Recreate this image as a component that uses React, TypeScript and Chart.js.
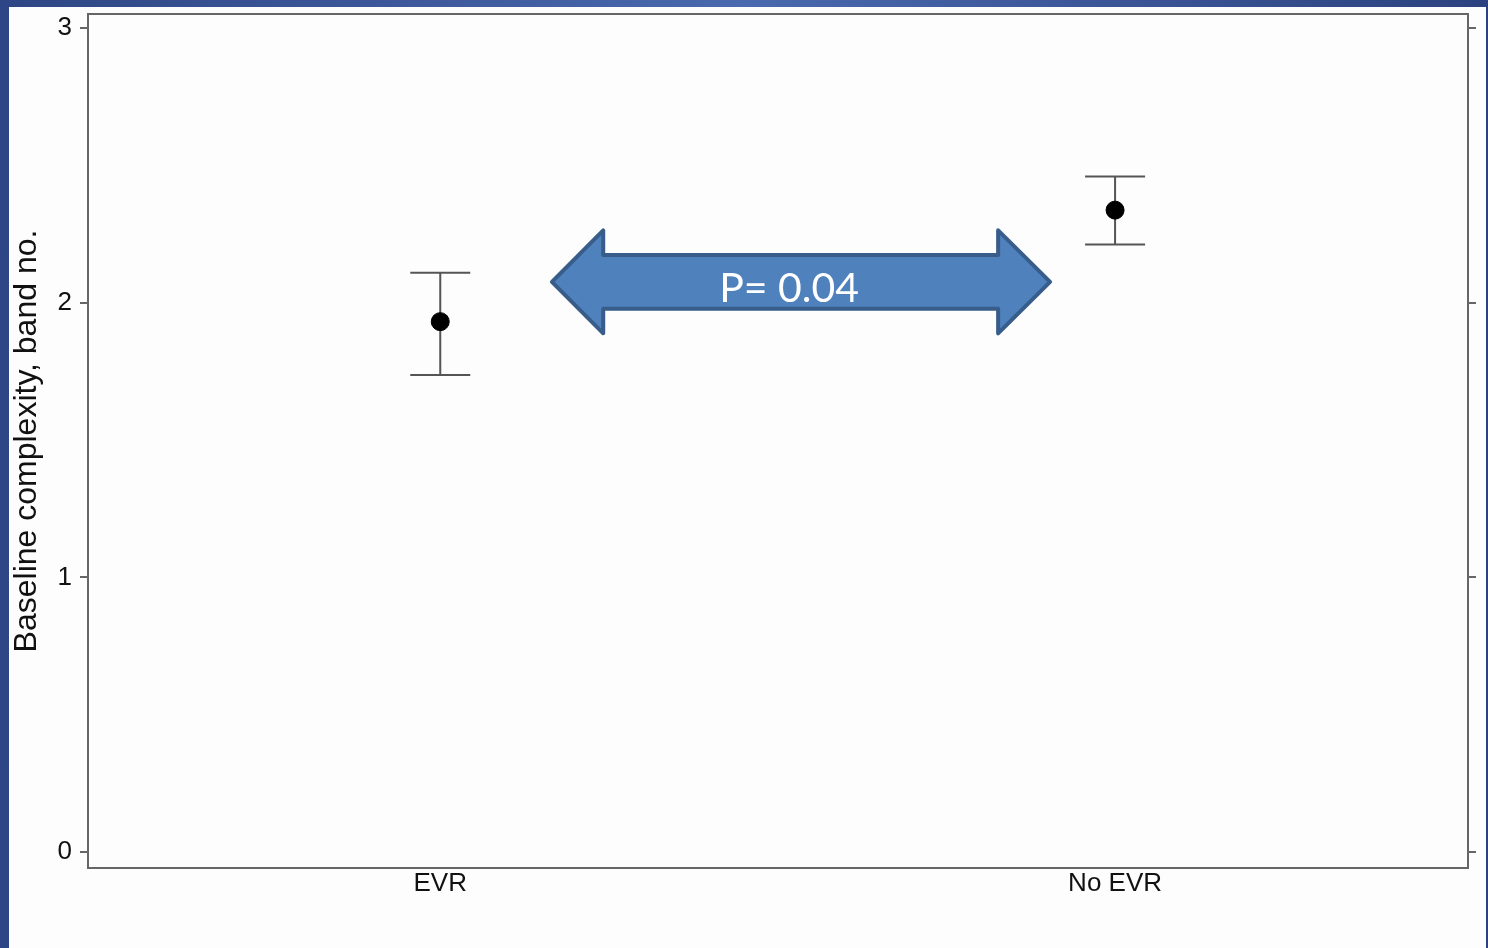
import React, { useEffect, useRef } from "react";
import { Chart, registerables } from "chart.js";

Chart.register(...registerables);

const categories = ["EVR", "No EVR"];
const positions = [1, 2];
const means = [1.931, 2.337];
const upper = [2.109, 2.459];
const lower = [1.737, 2.212];
const yTicks = [0, 1, 2, 3];
const yTitle = "Baseline complexity, band no.";
const pLabel = "P= 0.04";
// annotation arrow in data units: [leftTip, leftHeadBase, rightHeadBase, rightTip]
const arrowX = [1.1655, 1.2415, 1.8267, 1.9037];
const arrowY = [2.076]; // centre line
const arrowHalfHead = [0.1875];
const arrowHalfShaft = [0.098];
const pLabelPos = [1.517, 2.0035];

const boxPlugin = {
  id: "boxPlugin",
  beforeDatasetsDraw(chart: any) {
    const { ctx, chartArea } = chart;
    ctx.save();
    ctx.strokeStyle = "#666666";
    ctx.lineWidth = 2;
    ctx.strokeRect(chartArea.left, chartArea.top, chartArea.right - chartArea.left, chartArea.bottom - chartArea.top);
    const xs = chart.scales.x;
    const ys = chart.scales.y;
    ctx.strokeStyle = "#555555";
    ctx.lineWidth = 2;
    for (let i = 0; i < positions.length; i++) {
      const px = xs.getPixelForValue(positions[i]);
      const pu = ys.getPixelForValue(upper[i]);
      const pl = ys.getPixelForValue(lower[i]);
      ctx.beginPath();
      ctx.moveTo(px, pu);
      ctx.lineTo(px, pl);
      ctx.moveTo(px - 30, pu);
      ctx.lineTo(px + 30, pu);
      ctx.moveTo(px - 30, pl);
      ctx.lineTo(px + 30, pl);
      ctx.stroke();
    }
    ctx.restore();
  },
  afterDatasetsDraw(chart: any) {
    const { ctx } = chart;
    const xs = chart.scales.x;
    const ys = chart.scales.y;
    const x0 = xs.getPixelForValue(arrowX[0]);
    const x1 = xs.getPixelForValue(arrowX[1]);
    const x2 = xs.getPixelForValue(arrowX[2]);
    const x3 = xs.getPixelForValue(arrowX[3]);
    const yc = ys.getPixelForValue(arrowY[0]);
    const hh = ys.getPixelForValue(arrowY[0] - arrowHalfHead[0]) - yc;
    const hs = ys.getPixelForValue(arrowY[0] - arrowHalfShaft[0]) - yc;
    ctx.save();
    ctx.beginPath();
    ctx.moveTo(x0, yc);
    ctx.lineTo(x1, yc - hh);
    ctx.lineTo(x1, yc - hs);
    ctx.lineTo(x2, yc - hs);
    ctx.lineTo(x2, yc - hh);
    ctx.lineTo(x3, yc);
    ctx.lineTo(x2, yc + hh);
    ctx.lineTo(x2, yc + hs);
    ctx.lineTo(x1, yc + hs);
    ctx.lineTo(x1, yc + hh);
    ctx.closePath();
    ctx.fillStyle = "#4F81BD";
    ctx.fill();
    ctx.lineJoin = "round";
    ctx.lineWidth = 4;
    ctx.strokeStyle = "#385D8A";
    ctx.stroke();
    ctx.fillStyle = "#ffffff";
    ctx.font = "41px Lato, 'Open Sans', sans-serif";
    ctx.textAlign = "center";
    ctx.textBaseline = "alphabetic";
    ctx.fillText(pLabel, xs.getPixelForValue(pLabelPos[0]), ys.getPixelForValue(pLabelPos[1]));
    ctx.restore();
  },
};

const fitY = (w: number) => (s: any) => {
  s.width = w;
  s.paddingTop = 0;
  s.paddingBottom = 0;
};

export default function App() {
  const ref = useRef<HTMLCanvasElement | null>(null);
  useEffect(() => {
    if (!ref.current) return;
    const chart = new Chart(ref.current, {
      type: "scatter",
      data: {
        datasets: [
          {
            data: positions.map((p, i) => ({ x: p, y: means[i] })),
            backgroundColor: "#000000",
            borderColor: "#000000",
            pointRadius: 9,
            pointHoverRadius: 9,
          },
        ],
      },
      options: {
        animation: false,
        responsive: false,
        layout: { padding: { left: 0, top: 14, right: 0, bottom: 0 } },
        plugins: { legend: { display: false }, tooltip: { enabled: false } },
        scales: {
          x: {
            type: "linear",
            min: 0.478,
            max: 2.523,
            afterBuildTicks: (s: any) => {
              s.ticks = positions.map((v) => ({ value: v }));
            },
            afterFit: (s: any) => {
              s.height = 80;
              s.paddingLeft = 0;
              s.paddingRight = 0;
            },
            ticks: {
              callback: (v: any) => categories[positions.indexOf(Number(v))] ?? "",
              font: { family: "'Liberation Sans', Arial, sans-serif", size: 26 },
              color: "#111111",
              padding: 0,
              maxRotation: 0,
            },
            grid: { display: false, drawTicks: false },
            border: { display: false },
          },
          y: {
            type: "linear",
            min: -0.058,
            max: 3.051,
            afterBuildTicks: (s: any) => {
              s.ticks = yTicks.map((v) => ({ value: v }));
            },
            afterFit: fitY(88),
            ticks: {
              font: { family: "'Liberation Sans', Arial, sans-serif", size: 26 },
              color: "#111111",
              padding: 8,
            },
            grid: { drawOnChartArea: false, drawTicks: true, tickLength: 8, color: "#666666", lineWidth: 2 },
            border: { display: false },
            title: {
              display: true,
              text: yTitle,
              font: { family: "'Liberation Sans', Arial, sans-serif", size: 32 },
              color: "#111111",
              padding: { top: 8, bottom: 0 },
            },
          },
          y2: {
            type: "linear",
            position: "right",
            min: -0.058,
            max: 3.051,
            afterBuildTicks: (s: any) => {
              s.ticks = yTicks.map((v) => ({ value: v }));
            },
            afterFit: fitY(20),
            ticks: { display: false },
            grid: { drawOnChartArea: false, drawTicks: true, tickLength: 8, color: "#666666", lineWidth: 2 },
            border: { display: false },
          },
        },
      },
      plugins: [boxPlugin],
    } as any);
    return () => chart.destroy();
  }, []);
  return (
    <div
      style={{
        position: "fixed",
        left: 0,
        top: 0,
        width: 1488,
        height: 948,
        background: "linear-gradient(90deg, #2E4685 0%, #4A69AE 50%, #2C4280 100%)",
        overflow: "hidden",
      }}
    >
      <div style={{ position: "absolute", left: 9, top: 7, width: 1477, height: 941, background: "#fdfdfd" }} />
      <canvas ref={ref} width={1488} height={948} style={{ position: "absolute", left: 0, top: 0, width: 1488, height: 948 }} />
    </div>
  );
}
